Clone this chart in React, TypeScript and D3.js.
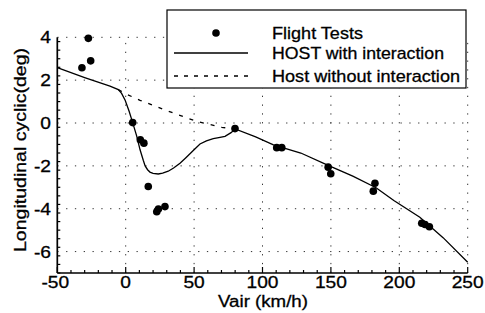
import React from "react";
import * as d3 from "d3";

const xTicks = [-50, 0, 50, 100, 150, 200, 250];
const yTicks = [-6, -4, -2, 0, 2, 4];

const flightX = [-27.3, -25.6, -32, 5.1, 10.7, 13.3, 16.5, 22.7, 23.9, 28.7, 79.9, 110.4, 114.1, 148, 149.9, 182.2, 181, 216.4, 218.8, 222];
const flightY = [3.95, 2.9, 2.58, 0.02, -0.78, -0.94, -2.96, -4.14, -4.01, -3.9, -0.26, -1.15, -1.15, -2.06, -2.37, -2.81, -3.18, -4.68, -4.74, -4.84];

const withX = [-50, -30, -11.5, -5.4, -3, -0.4, 2.5, 5.1, 8, 10.5, 12.9, 14.2, 16, 17.7, 20, 23.8, 27, 31.1, 35, 39.7, 44, 49.4, 54.3, 59, 64, 68, 72.6, 77, 80, 95, 108, 128, 148, 166, 183, 196, 215, 232, 250];
const withY = [2.58, 2.12, 1.72, 1.56, 1.38, 1.06, 0.55, 0.02, -0.6, -1.25, -1.75, -2.0, -2.18, -2.29, -2.35, -2.38, -2.34, -2.25, -2.1, -1.88, -1.62, -1.28, -0.98, -0.83, -0.73, -0.68, -0.62, -0.45, -0.28, -0.65, -1.02, -1.4, -1.98, -2.48, -3.02, -3.62, -4.4, -5.35, -6.5];

const withoutX = [-5.4, 0.7, 10.5, 18.7, 27.5, 36, 44.6, 53, 61.8, 70.2, 80];
const withoutY = [1.56, 1.34, 1.06, 0.86, 0.64, 0.44, 0.24, 0.06, -0.07, -0.2, -0.28];

const legendLabels = ["Flight Tests", "HOST with interaction", "Host without interaction"];
const xLabel = "Vair (km/h)";
const yLabel = "Longitudinal cyclic(deg)";

const FONT = "'Liberation Sans', Arial, Helvetica, sans-serif";

export default function App() {
  const x = d3.scaleLinear().domain([-50, 250]).range([57.3, 467.7]);
  const y = d3.scaleLinear().domain([-7, 4]).range([273, 37.3]);
  const line = d3
    .line<[number, number]>()
    .x((d) => x(d[0]))
    .y((d) => y(d[1]))
    .curve(d3.curveLinear);

  const withPts: [number, number][] = withX.map((v, i) => [v, withY[i]]);
  const withoutPts: [number, number][] = withoutX.map((v, i) => [v, withoutY[i]]);

  const xMinor = d3.range(-50, 251, 10);
  const yMinor = d3.range(0, 28).map((i) => -7 + i * 0.4).filter((v) => v <= 4.001);

  const x0 = x(-50);
  const x1 = x(250);
  const yb = y(-7);
  const yt = y(4);

  const legendRows = [33, 53, 76];

  return (
    <svg
      width={485}
      height={313}
      style={{ position: "absolute", left: 0, top: 0, background: "#fff" }}
      fontFamily={FONT}
    >
      <rect x={0} y={0} width={485} height={313} fill="#fff" />
      {/* grid */}
      <g stroke="#333" strokeWidth={1} strokeDasharray="1.3,7.5">
        {xTicks.filter((t) => t !== -50).map((t) => (
          <line key={"gx" + t} x1={x(t)} x2={x(t)} y1={yb} y2={yt} />
        ))}
        {yTicks.map((t) => (
          <line key={"gy" + t} x1={x0} x2={x1} y1={y(t)} y2={y(t)} />
        ))}
      </g>
      {/* axes */}
      <g stroke="#000" fill="none">
        <line x1={x0} x2={x1} y1={yb} y2={yb} strokeWidth={1.7} />
        <line x1={x0} x2={x0} y1={yb} y2={yt} strokeWidth={1.7} />
        {xMinor.map((t) => (
          <line key={"xm" + t} x1={x(t)} x2={x(t)} y1={yb} y2={yb - (t % 50 === 0 ? 6 : 3)} strokeWidth={1.2} />
        ))}
        {yMinor.map((t, i) => {
          const major = Math.abs(t - Math.round(t)) < 1e-6 && Math.round(t) % 2 === 0;
          return <line key={"ym" + i} x1={x0} x2={x0 + (major ? 6 : 3)} y1={y(t)} y2={y(t)} strokeWidth={1.2} />;
        })}
      </g>
      {/* tick labels */}
      <g fontSize={17} fill="#000" stroke="#000" strokeWidth={0.3}>
        {xTicks.map((t) => (
          <g key={"xl" + t} transform={`translate(${x(t) - (t === -50 ? 2 : 0)},${288})`}>
            <text textAnchor="middle" transform="scale(1.13,1)">{t}</text>
          </g>
        ))}
        {yTicks.map((t) => (
          <g key={"yl" + t} transform={`translate(${51},${y(t) + 6})`}>
            <text textAnchor="end" transform="scale(1.13,1)">{t}</text>
          </g>
        ))}
      </g>
      {/* axis titles */}
      <g fill="#000" stroke="#000" strokeWidth={0.3}>
        <text x={263} y={307} fontSize={16} textAnchor="middle" textLength={90} lengthAdjust="spacingAndGlyphs">
          {xLabel}
        </text>
        <text
          transform={`translate(26,150) rotate(-90)`}
          fontSize={17}
          textAnchor="middle"
          textLength={204}
          lengthAdjust="spacingAndGlyphs"
        >
          {yLabel}
        </text>
      </g>
      {/* curves */}
      <path d={line(withoutPts) || ""} fill="none" stroke="#000" strokeWidth={1.3} strokeDasharray="4,7" />
      <path d={line(withPts) || ""} fill="none" stroke="#000" strokeWidth={1.3} />
      {/* flight tests */}
      <g fill="#000">
        {flightX.map((v, i) => (
          <circle key={"p" + i} cx={x(v)} cy={y(flightY[i])} r={3.8} />
        ))}
      </g>
      {/* legend */}
      <rect x={167} y={10} width={299} height={78} fill="#fff" stroke="#000" strokeWidth={1.2} />
      <circle cx={216} cy={legendRows[0]} r={3.8} fill="#000" />
      <line x1={174} x2={248} y1={legendRows[1]} y2={legendRows[1]} stroke="#000" strokeWidth={1.3} />
      <line x1={174} x2={248} y1={legendRows[2]} y2={legendRows[2]} stroke="#000" strokeWidth={1.3} strokeDasharray="4,6" />
      <g fontSize={17} fill="#000" stroke="#000" strokeWidth={0.3}>
        <text x={272} y={legendRows[0] + 6} textLength={91} lengthAdjust="spacingAndGlyphs">{legendLabels[0]}</text>
        <text x={272} y={legendRows[1] + 6} textLength={172} lengthAdjust="spacingAndGlyphs">{legendLabels[1]}</text>
        <text x={272} y={legendRows[2] + 6} textLength={188} lengthAdjust="spacingAndGlyphs">{legendLabels[2]}</text>
      </g>
    </svg>
  );
}
